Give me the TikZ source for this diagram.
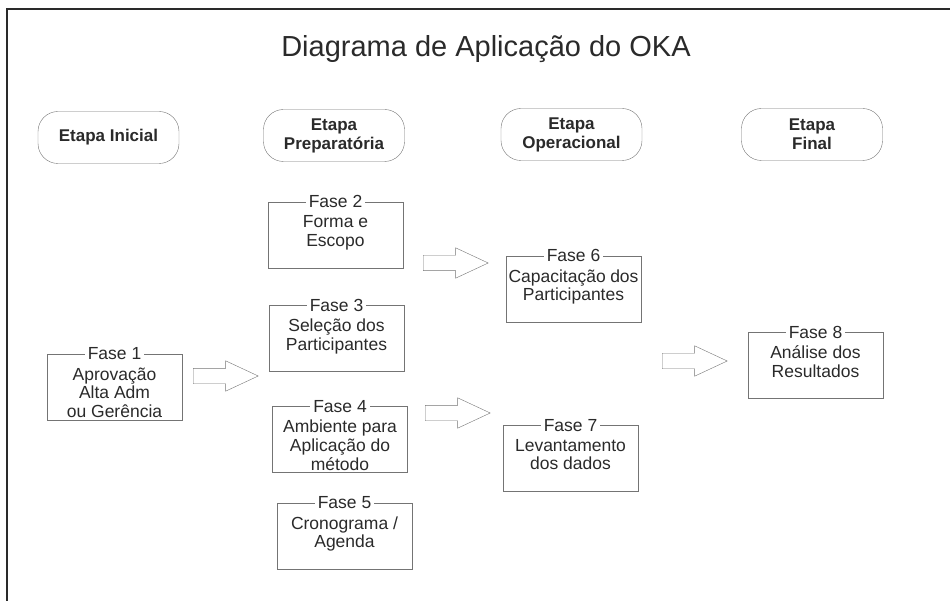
\documentclass[tikz,border=0pt]{standalone}
\usepackage{fontspec}
\setmainfont{Liberation Sans}
\usepackage{xcolor}
\usepackage{tikz}
\usetikzlibrary{shapes,arrows,positioning}
\definecolor{linegray}{HTML}{747474}
\definecolor{textgray}{HTML}{2A2A2A}
% texto da fase alinhado pelo topo da caixa
\newcommand{\textofase}[1]{\parbox[t][39pt][t]{130pt}{\centering #1}}
\tikzset{
	etapa/.style={draw=linegray,rounded corners=20pt,minimum width=141pt,minimum height=52pt,align=center,text=textgray,font=\fontsize{17}{19}\selectfont\bfseries},
	fase/.style={draw=linegray,minimum width=135pt,minimum height=66pt,inner xsep=0pt,inner ysep=13.5pt,text=textgray,font=\fontsize{17.5}{18.8}\selectfont},
	fasetitulo/.style={fill=white,inner xsep=3pt,inner ysep=0pt,anchor=center,text=textgray,font=\fontsize{17.5}{18.8}\selectfont},
	seta/.style={single arrow,draw=linegray,anchor=tail,minimum height=65pt,minimum width=30pt,single arrow head extend=7.5pt,single arrow tip angle=50,inner xsep=0pt,inner ysep=7.5pt}
}
\begin{document}
\begin{tikzpicture}[x=1pt,y=-1pt]
		\useasboundingbox (0,0) rectangle (950,601);
		% moldura
		\draw[line width=2.8pt,textgray] (7,601) -- (7,9) -- (950,9);
		\node[anchor=base,text=textgray,font=\fontsize{29}{34}\selectfont] (titulo) at (486,57) {Diagrama de Aplicação do OKA};
		% etapas
		\node[etapa] (inicial) at (108.5,137.5) {Etapa Inicial};
		\node[etapa] (preparatoria) at (334,135.5) {Etapa\\Preparatória};
		\node[etapa] (operacional) at (571.5,134.5) {Etapa\\Operacional};
		\node[etapa] (final) at (812,134.5) {Etapa\\Final};
		% fases
		\node[fase,label={[fasetitulo]north:Fase 1}] (fase1) at (114.5,387) {\textofase{Aprovação\\Alta Adm\\ou Gerência}};
		\node[fase,label={[fasetitulo]north:Fase 2}] (fase2) at (335.5,235) {\textofase{Forma e\\Escopo}};
		\node[fase,label={[fasetitulo]north:Fase 3}] (fase3) at (336.5,338.5) {\textofase{Seleção dos\\Participantes}};
		\node[fase,label={[fasetitulo]north:Fase 4}] (fase4) at (340,439.5) {\textofase{Ambiente para\\Aplicação do\\método}};
		\node[fase,label={[fasetitulo]north:Fase 5}] (fase5) at (344.5,536) {\textofase{Cronograma /\\Agenda}};
		\node[fase,label={[fasetitulo]north:Fase 6}] (fase6) at (573.5,289) {\textofase{Capacitação dos\\Participantes}};
		\node[fase,label={[fasetitulo]north:Fase 7}] (fase7) at (570.5,458.5) {\textofase{Levantamento\\dos dados}};
		\node[fase,label={[fasetitulo]north:Fase 8}] (fase8) at (815.5,365.5) {\textofase{Análise dos\\Resultados}};
		% setas
		\node[seta] (seta1) at (193,376) {};
		\node[seta] (seta2) at (423,263) {};
		\node[seta] (seta3) at (425,413) {};
		\node[seta] (seta4) at (662,361) {};
	\end{tikzpicture}
\end{document}
